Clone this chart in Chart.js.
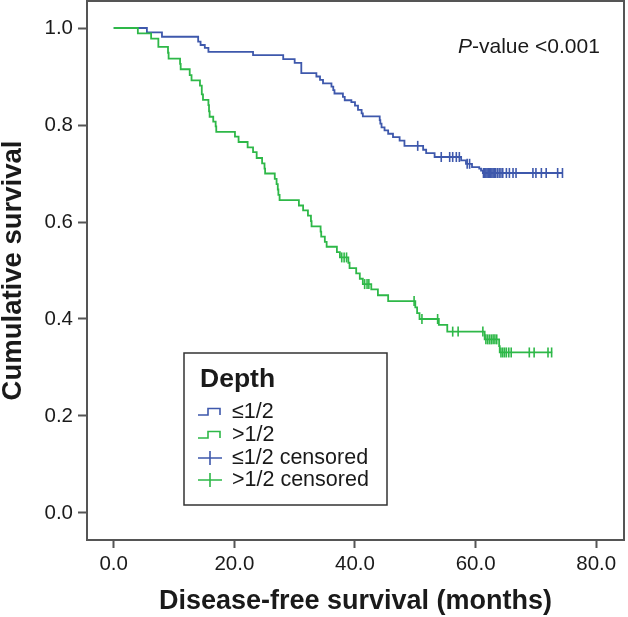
<!DOCTYPE html>
<html><head><meta charset="utf-8">
<script src="https://cdn.jsdelivr.net/npm/chart.js@4.4.1/dist/chart.umd.min.js"></script>
<style>html,body{margin:0;padding:0;background:#fff}#wrap{width:628px;height:617px;position:relative}</style>
</head><body><div id="wrap"><canvas id="c" width="628" height="617"></canvas></div>
<script>
// ---- data ----
const legendTitle = 'Depth';
const legendLabels = ['≤1/2', '>1/2', '≤1/2 censored', '>1/2 censored'];
const xTicks = [0, 20, 40, 60, 80];
const yTicks = [0, 0.2, 0.4, 0.6, 0.8, 1.0];
const xTitle = 'Disease-free survival (months)';
const yTitle = 'Cumulative survival';
const pLabel = ['P', '-value <0.001'];

const blueTimes = [0, 5.5, 8.0, 14.0, 14.4, 15.1, 15.7, 23.1, 28.1, 30.0, 31.1, 33.6, 34.2, 34.7, 36.1, 36.4, 36.6, 38.0, 38.3, 39.4, 40.0, 40.5, 41.1, 41.3, 44.1, 44.2, 44.4, 44.9, 45.5, 46.3, 47.4, 48.2, 51.3, 51.8, 53.2, 57.6, 58.4, 59.4, 60.6, 60.9, 61.2, 74.4];
const blueSurv  = [1.0, 0.991, 0.982, 0.972, 0.965, 0.959, 0.951, 0.944, 0.936, 0.928, 0.907, 0.900, 0.893, 0.886, 0.879, 0.872, 0.865, 0.858, 0.851, 0.847, 0.840, 0.831, 0.824, 0.818, 0.810, 0.803, 0.795, 0.789, 0.782, 0.775, 0.768, 0.757, 0.749, 0.742, 0.734, 0.727, 0.720, 0.713, 0.710, 0.706, 0.701, 0.701];
const blueCensor = [50.4, 54.3, 55.7, 56.2, 56.8, 57.3, 58.6, 59.0, 61.3, 61.5, 61.7, 61.9, 62.1, 62.3, 62.5, 62.7, 62.9, 63.1, 63.3, 63.6, 63.9, 64.2, 64.5, 65.1, 65.6, 66.2, 66.7, 69.5, 70.0, 70.9, 71.7, 73.6, 74.4];

const greenTimes = [0, 4.0, 6.2, 7.4, 9.0, 9.1, 11.0, 11.1, 12.6, 12.9, 14.3, 14.6, 14.8, 15.7, 15.8, 15.9, 16.5, 16.9, 17.0, 20.1, 20.7, 22.2, 23.1, 23.7, 24.6, 25.0, 25.1, 26.7, 27.0, 27.2, 27.3, 27.5, 30.7, 31.4, 32.2, 32.7, 32.8, 34.3, 34.4, 35.0, 35.3, 37.0, 37.5, 38.9, 39.1, 40.2, 40.8, 41.3, 42.7, 43.8, 45.5, 50.0, 50.3, 50.7, 53.9, 55.3, 61.5, 63.9, 64.0, 72.7];
const greenSurv  = [1.0, 0.989, 0.978, 0.961, 0.949, 0.937, 0.926, 0.915, 0.903, 0.892, 0.881, 0.863, 0.852, 0.841, 0.828, 0.817, 0.807, 0.797, 0.786, 0.776, 0.765, 0.754, 0.744, 0.732, 0.721, 0.710, 0.700, 0.689, 0.678, 0.667, 0.656, 0.645, 0.634, 0.624, 0.613, 0.602, 0.591, 0.580, 0.570, 0.559, 0.549, 0.538, 0.527, 0.516, 0.505, 0.494, 0.483, 0.472, 0.461, 0.449, 0.437, 0.424, 0.412, 0.400, 0.388, 0.374, 0.358, 0.344, 0.331, 0.331];
const greenCensor = [37.8, 38.2, 38.6, 41.6, 42.0, 42.3, 49.8, 51.1, 53.7, 56.2, 57.1, 61.2, 61.7, 62.0, 62.3, 62.6, 62.9, 63.2, 63.5, 64.2, 64.5, 64.8, 65.1, 65.5, 65.9, 68.9, 69.7, 72.0, 72.6];

// ---- styling ----
const BLUE = '#3E58AC';
const GREEN = '#2EB848';
const AXIS = '#555555';
const TEXT = '#1a1a1a';
const FONT = "'Liberation Sans', Arial, Helvetica, sans-serif";

function curvePoints(times, surv) { return times.map((t, i) => ({x: t, y: surv[i]})); }
function survAt(times, surv, t) { let s = surv[0]; for (let i = 0; i < times.length; i++) { if (times[i] <= t) s = surv[i]; } return s; }
function censorPoints(c, times, surv) { return c.map(t => ({x: t, y: survAt(times, surv, t)})); }

const overlay = {
  id: 'overlay',
  afterDraw(chart) {
    const ctx = chart.ctx, a = chart.chartArea;
    ctx.save();
    // frame
    ctx.strokeStyle = AXIS; ctx.lineWidth = 2;
    ctx.strokeRect(a.left, a.top, a.right - a.left, a.bottom - a.top);
    // p-value annotation
    ctx.fillStyle = TEXT; ctx.textBaseline = 'middle'; ctx.textAlign = 'left';
    ctx.font = 'italic 21px ' + FONT;
    const px = 458, py = 47;
    ctx.fillText(pLabel[0], px, py);
    const w = ctx.measureText(pLabel[0]).width;
    ctx.font = '21px ' + FONT;
    ctx.fillText(pLabel[1], px + w, py);
    // legend box
    const bx = 184, by = 353, bw = 203, bh = 152;
    ctx.fillStyle = '#fff'; ctx.fillRect(bx, by, bw, bh);
    ctx.strokeStyle = '#333'; ctx.lineWidth = 1.5; ctx.strokeRect(bx, by, bw, bh);
    ctx.fillStyle = TEXT; ctx.font = 'bold 26.5px ' + FONT;
    ctx.fillText(legendTitle, 200, 380);
    const rows = [412, 435, 458, 480];
    const cols = [BLUE, GREEN, BLUE, GREEN];
    ctx.font = '21.5px ' + FONT;
    rows.forEach((ry, i) => {
      ctx.strokeStyle = cols[i]; ctx.lineWidth = 1.6;
      ctx.beginPath();
      if (i < 2) {
        ctx.moveTo(198, ry + 3); ctx.lineTo(208, ry + 3); ctx.lineTo(208, ry - 3.5);
        ctx.lineTo(220, ry - 3.5); ctx.lineTo(220, ry + 3);
      } else {
        ctx.moveTo(198, ry); ctx.lineTo(222, ry);
        ctx.moveTo(210, ry - 7); ctx.lineTo(210, ry + 7);
      }
      ctx.stroke();
      ctx.fillStyle = TEXT;
      ctx.fillText(legendLabels[i], 232, ry);
    });
    ctx.restore();
  }
};

new Chart(document.getElementById('c'), {
  type: 'scatter',
  data: {
    datasets: [
      {label: '>1/2 censored', data: censorPoints(greenCensor, greenTimes, greenSurv), showLine: false,
       pointStyle: 'line', rotation: 90, pointRadius: 5, pointBorderWidth: 1.6, borderColor: GREEN, backgroundColor: GREEN, order: 0},
      {label: '>1/2', data: curvePoints(greenTimes, greenSurv), showLine: true, stepped: true,
       borderColor: GREEN, borderWidth: 1.8, pointRadius: 0, fill: false, order: 1},
      {label: '≤1/2 censored', data: censorPoints(blueCensor, blueTimes, blueSurv), showLine: false,
       pointStyle: 'line', rotation: 90, pointRadius: 5, pointBorderWidth: 1.6, borderColor: BLUE, backgroundColor: BLUE, order: 2},
      {label: '≤1/2', data: curvePoints(blueTimes, blueSurv), showLine: true, stepped: true,
       borderColor: BLUE, borderWidth: 1.8, pointRadius: 0, fill: false, order: 3}
    ]
  },
  options: {
    responsive: false, animation: false,
    layout: {autoPadding: false, padding: {left: 0, right: 4, top: 1, bottom: 0}},
    plugins: {legend: {display: false}, tooltip: {enabled: false}},
    scales: {
      x: {
        type: 'linear', min: -4.43, max: 84.6,
        afterBuildTicks: s => { s.ticks = xTicks.map(v => ({value: v})); },
        afterFit: s => { s.height = 77; s.paddingLeft = 0; s.paddingRight = 0; },
        ticks: {callback: v => v.toFixed(1), color: TEXT, font: {family: FONT, size: 20.5}, padding: 4, maxRotation: 0, autoSkip: false},
        grid: {display: true, drawOnChartArea: false, drawTicks: true, tickLength: 8, tickWidth: 2, tickColor: AXIS},
        border: {display: true, color: AXIS, width: 2},
        title: {display: true, text: xTitle, color: TEXT, font: {family: FONT, size: 27, weight: 'bold', lineHeight: 1.0}, padding: {top: 0, bottom: 2}}
      },
      y: {
        type: 'linear', min: -0.0557, max: 1.0557,
        afterBuildTicks: s => { s.ticks = yTicks.map(v => ({value: v})); },
        afterFit: s => { s.width = 87; s.paddingTop = 0; s.paddingBottom = 0; },
        ticks: {callback: v => v.toFixed(1), color: TEXT, font: {family: FONT, size: 20.5}, padding: 5, autoSkip: false},
        grid: {display: true, drawOnChartArea: false, drawTicks: true, tickLength: 9, tickWidth: 2, tickColor: AXIS},
        border: {display: true, color: AXIS, width: 2},
        title: {display: true, text: yTitle, color: TEXT, font: {family: FONT, size: 27.5, weight: 'bold', lineHeight: 1.0}, padding: {top: 0, bottom: 0}}
      }
    }
  },
  plugins: [overlay]
});
</script>
</body></html>
